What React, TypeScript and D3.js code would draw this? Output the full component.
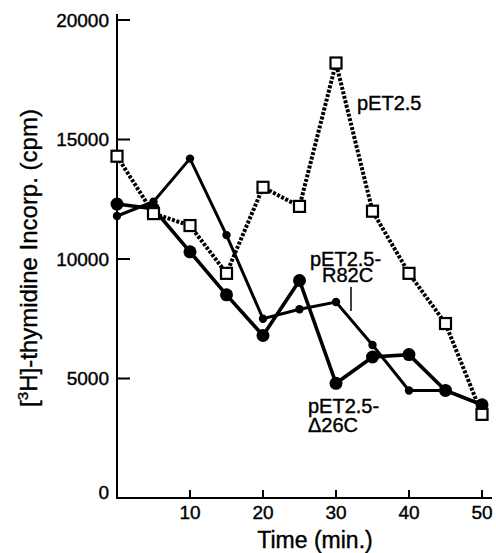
import * as d3 from 'd3';
import React, { useEffect, useRef } from 'react';

// time points (min.)
const times = [0, 5, 10, 15, 20, 25, 30, 35, 40, 45, 50];

// [3H]-thymidine incorporation (cpm)
const pET25 = [14300, 11900, 11400, 9400, 13000, 12200, 18200, 12000, 9400, 7300, 3500];
const pET25R82C = [11800, 12400, 14200, 11000, 7500, 7900, 8200, 6400, 4500, 4500, 3900];
const pET25D26C = [12300, 12100, 10300, 8500, 6800, 9100, 4800, 5900, 6000, 4500, 3900];

const xTicks = [10, 20, 30, 40, 50];
const yTicks = [0, 5000, 10000, 15000, 20000];

const W = 496;
const H = 553;
const FONT = '"Liberation Sans", Arial, Helvetica, sans-serif';

export default function App() {
  const ref = useRef<SVGSVGElement>(null);

  useEffect(() => {
    const svg = d3.select(ref.current);
    svg.selectAll('*').remove();

    const x = d3.scaleLinear().domain([0, 50]).range([117, 482]);
    const y = d3.scaleLinear().domain([0, 20000]).range([498, 20]);

    // axes
    const g = svg.append('g')
      .attr('font-family', FONT).attr('fill', '#000')
      .attr('stroke-width', 0.4);
    g.append('line')
      .attr('x1', x(0)).attr('x2', x(0))
      .attr('y1', 14).attr('y2', y(0))
      .attr('stroke', '#000').attr('stroke-width', 2);
    g.append('line')
      .attr('x1', x(0) - 1).attr('x2', 492)
      .attr('y1', y(0)).attr('y2', y(0))
      .attr('stroke', '#000').attr('stroke-width', 2);

    // y ticks point inward
    g.selectAll('.ytick')
      .data(yTicks.filter(d => d > 0))
      .enter().append('line')
      .attr('x1', x(0)).attr('x2', x(0) + 13)
      .attr('y1', d => y(d)).attr('y2', d => y(d))
      .attr('stroke', '#000').attr('stroke-width', 2);
    g.selectAll('.ylab')
      .data(yTicks)
      .enter().append('text')
      .attr('x', 109)
      .attr('y', d => (d === 0 ? y(d) - 6 : y(d)))
      .attr('dy', '0.36em')
      .attr('text-anchor', 'end')
      .attr('font-size', 19)
      .attr('stroke', '#000')
      .text(d => String(d));

    g.selectAll('.xtick')
      .data(xTicks)
      .enter().append('line')
      .attr('x1', d => x(d)).attr('x2', d => x(d))
      .attr('y1', y(0)).attr('y2', y(0) - 8)
      .attr('stroke', '#000').attr('stroke-width', 2);
    g.selectAll('.xlab')
      .data(xTicks)
      .enter().append('text')
      .attr('x', d => x(d))
      .attr('y', 519)
      .attr('text-anchor', 'middle')
      .attr('font-size', 19)
      .attr('stroke', '#000')
      .text(d => String(d));

    g.append('text')
      .attr('x', 315).attr('y', 548)
      .attr('text-anchor', 'middle')
      .attr('font-size', 23)
      .attr('stroke', '#000')
      .text('Time (min.)');

    const yl = g.append('text')
      .attr('transform', 'translate(37,258) rotate(-90)')
      .attr('text-anchor', 'middle')
      .attr('font-size', 24)
      .attr('stroke', '#000');
    yl.append('tspan').text('[');
    yl.append('tspan').attr('font-size', 15).attr('dy', -9).text('3');
    yl.append('tspan').attr('dy', 9).text('H]-thymidine Incorp. (cpm)');

    const line = d3.line<number>()
      .x((d, i) => x(times[i]))
      .y(d => y(d));

    svg.append('path').datum(pET25D26C)
      .attr('d', line).attr('fill', 'none')
      .attr('stroke', '#000').attr('stroke-width', 3.6);
    svg.append('path').datum(pET25R82C)
      .attr('d', line).attr('fill', 'none')
      .attr('stroke', '#000').attr('stroke-width', 3);
    svg.append('path').datum(pET25)
      .attr('d', line).attr('fill', 'none')
      .attr('stroke', '#000').attr('stroke-width', 4)
      .attr('stroke-dasharray', '3,1.6');

    svg.selectAll('.big')
      .data(pET25D26C)
      .enter().append('circle')
      .attr('cx', (d, i) => x(times[i])).attr('cy', d => y(d))
      .attr('r', 6.5).attr('fill', '#000');
    svg.selectAll('.small')
      .data(pET25R82C)
      .enter().append('circle')
      .attr('cx', (d, i) => x(times[i])).attr('cy', d => y(d))
      .attr('r', 4.2).attr('fill', '#000');
    svg.selectAll('.sq')
      .data(pET25)
      .enter().append('rect')
      .attr('x', (d, i) => x(times[i]) - 5.5).attr('y', d => y(d) - 5.5)
      .attr('width', 11).attr('height', 11)
      .attr('fill', '#fff').attr('stroke', '#000').attr('stroke-width', 2.2);

    // series labels
    const lab = svg.append('g')
      .attr('font-family', FONT).attr('font-size', 20)
      .attr('fill', '#000').attr('stroke', '#000').attr('stroke-width', 0.4);
    lab.append('text').attr('x', 357).attr('y', 110).text('pET2.5');
    lab.append('text').attr('x', 310).attr('y', 266).text('pET2.5-');
    lab.append('text').attr('x', 322).attr('y', 282).text('R82C');
    lab.append('line')
      .attr('x1', 351).attr('x2', 351).attr('y1', 287).attr('y2', 311)
      .attr('stroke-width', 1.5);
    lab.append('text').attr('x', 308).attr('y', 413).text('pET2.5-');
    lab.append('text').attr('x', 308).attr('y', 432).text('\u039426C');
  }, []);

  return (
    <svg ref={ref} width={W} height={H}
      style={{ position: 'absolute', left: 0, top: 0, background: '#fff' }} />
  );
}
